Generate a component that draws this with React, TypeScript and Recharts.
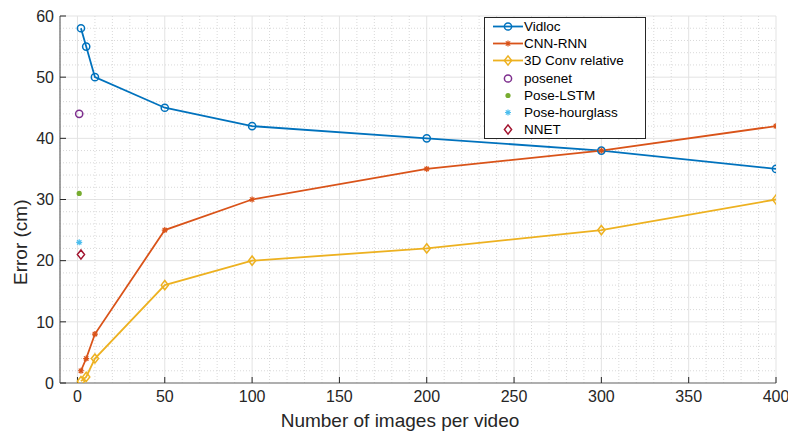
import React from 'react';
import {
  ComposedChart,
  Line,
  Scatter,
  XAxis,
  YAxis,
  CartesianGrid,
  ReferenceLine,
  Legend,
} from 'recharts';

const imagesPerVideo = [2, 5, 10, 50, 100, 200, 300, 400];
const vidlocError = [58, 55, 50, 45, 42, 40, 38, 35];
const cnnRnnError = [2, 4, 8, 25, 30, 35, 38, 42];
const conv3dError = [0.3, 1, 4, 16, 20, 22, 25, 30];

const posenetPoint = [{ x: 1, y: 44 }];
const poseLstmPoint = [{ x: 1, y: 31 }];
const poseHourglassPoint = [{ x: 1, y: 23 }];
const nnetPoint = [{ x: 2, y: 21 }];

const xTicks = [0, 50, 100, 150, 200, 250, 300, 350, 400];
const yTicks = [0, 10, 20, 30, 40, 50, 60];

// minor grid every 10 on x, every 2 on y
const xMinor: number[] = [];
for (let v = -10; v < 400; v += 10) if (v % 50 !== 0) xMinor.push(v);
const yMinor: number[] = [];
for (let v = 2; v < 60; v += 2) if (v % 10 !== 0) yMinor.push(v);

const FONT = '"Liberation Sans", Arial, sans-serif';
const AXIS = '#262626';
const BOX = '#6e6e6e';

const toPoints = (ys: number[]) => imagesPerVideo.map((x, i) => ({ x, y: ys[i] }));

const seriesMeta: Record<string, { color: string; kind: string; line: boolean }> = {
  Vidloc: { color: '#0072BD', kind: 'circle', line: true },
  'CNN-RNN': { color: '#D95319', kind: 'star', line: true },
  '3D Conv relative': { color: '#EDB120', kind: 'diamond', line: true },
  posenet: { color: '#7E2F8E', kind: 'circle', line: false },
  'Pose-LSTM': { color: '#77AC30', kind: 'dot', line: false },
  'Pose-hourglass': { color: '#4DBEEE', kind: 'star', line: false },
  NNET: { color: '#A2142F', kind: 'diamond', line: false },
};
const legendOrder = Object.keys(seriesMeta);

function Marker({ kind, cx, cy, color }: { kind: string; cx: number; cy: number; color: string }) {
  if (cx == null || cy == null) return null;
  if (kind === 'circle')
    return <circle cx={cx} cy={cy} r={3.6} fill="none" stroke={color} strokeWidth={1.5} />;
  if (kind === 'dot') return <circle cx={cx} cy={cy} r={2.6} fill={color} />;
  if (kind === 'diamond')
    return (
      <path
        d={`M${cx},${cy - 4.6}L${cx + 3.6},${cy}L${cx},${cy + 4.6}L${cx - 3.6},${cy}Z`}
        fill="none"
        stroke={color}
        strokeWidth={1.5}
      />
    );
  return (
    <path
      d={`M${cx - 3},${cy}H${cx + 3}M${cx},${cy - 3}V${cy + 3}M${cx - 2.2},${cy - 2.2}L${cx + 2.2},${cy + 2.2}M${cx - 2.2},${cy + 2.2}L${cx + 2.2},${cy - 2.2}`}
      stroke={color}
      strokeWidth={1.2}
      fill="none"
    />
  );
}

const renderLegend = (props: any) => {
  const payload = [...(props.payload || [])].sort(
    (a: any, b: any) => legendOrder.indexOf(a.value) - legendOrder.indexOf(b.value)
  );
  return (
    <div
      style={{
        border: `1px solid ${AXIS}`,
        background: '#fff',
        fontFamily: FONT,
        fontSize: 13.5,
        color: '#000',
        width: 160,
      }}
    >
      {payload.map((entry: any) => {
        const meta = seriesMeta[entry.value];
        return (
          <div key={entry.value} style={{ display: 'flex', alignItems: 'center', height: 17.2 }}>
            <svg width={30} height={17} style={{ marginLeft: 8 }}>
              {meta.line && (
                <line x1={0} x2={30} y1={8.5} y2={8.5} stroke={meta.color} strokeWidth={1.8} />
              )}
              <Marker kind={meta.kind} cx={15} cy={8.5} color={meta.color} />
            </svg>
            <span style={{ marginLeft: 1, lineHeight: '17px' }}>{entry.value}</span>
          </div>
        );
      })}
    </div>
  );
};

const lineSeries = [
  { name: 'Vidloc', values: vidlocError },
  { name: 'CNN-RNN', values: cnnRnnError },
  { name: '3D Conv relative', values: conv3dError },
];
const pointSeries = [
  { name: 'posenet', data: posenetPoint },
  { name: 'Pose-LSTM', data: poseLstmPoint },
  { name: 'Pose-hourglass', data: poseHourglassPoint },
  { name: 'NNET', data: nnetPoint },
];

export default function App() {
  const tickStyle = { fill: AXIS, fontSize: 16, fontFamily: FONT };
  const axisLine = { stroke: BOX, strokeWidth: 1.2 };
  const tickLine = { stroke: AXIS };
  return (
    <div style={{ position: 'absolute', left: 0, top: 0, background: '#fff' }}>
      <ComposedChart width={788} height={432} margin={{ top: 16, right: 12, left: 22, bottom: 0 }}>
        <CartesianGrid stroke="#e3e3e3" strokeWidth={1} />
        {xMinor.map((v) => (
          <ReferenceLine key={`xm${v}`} x={v} stroke="#d9d9d9" strokeDasharray="1 2" />
        ))}
        {yMinor.map((v) => (
          <ReferenceLine key={`ym${v}`} y={v} stroke="#d9d9d9" strokeDasharray="1 2" />
        ))}
        <XAxis
          type="number"
          dataKey="x"
          domain={[-10, 400]}
          ticks={xTicks}
          allowDataOverflow
          height={49}
          axisLine={axisLine}
          tickLine={tickLine}
          tickSize={-6}
          tickMargin={14}
          tick={tickStyle}
          label={{
            value: 'Number of images per video',
            position: 'insideBottom',
            offset: 5,
            dx: -18,
            fill: AXIS,
            fontSize: 19,
            fontFamily: FONT,
          }}
        />
        <XAxis
          xAxisId="top"
          orientation="top"
          type="number"
          domain={[-10, 400]}
          ticks={xTicks}
          allowDataOverflow
          height={0}
          axisLine={axisLine}
          tickLine={tickLine}
          tickSize={-6}
          tick={false}
        />
        <YAxis
          type="number"
          domain={[0, 60]}
          ticks={yTicks}
          allowDataOverflow
          width={38}
          axisLine={axisLine}
          tickLine={tickLine}
          tickSize={-6}
          tickMargin={12}
          tick={tickStyle}
          label={{
            value: 'Error (cm)',
            angle: -90,
            position: 'left',
            offset: 2,
            dx: 0,
            fill: AXIS,
            fontSize: 19,
            fontFamily: FONT,
          }}
        />
        <YAxis
          yAxisId="right"
          orientation="right"
          type="number"
          domain={[0, 60]}
          ticks={yTicks}
          width={0}
          axisLine={axisLine}
          tickLine={tickLine}
          tickSize={-6}
          tick={false}
        />
        {lineSeries.map((s) => {
          const meta = seriesMeta[s.name];
          return (
            <Line
              key={s.name}
              name={s.name}
              data={toPoints(s.values)}
              dataKey="y"
              stroke={meta.color}
              strokeWidth={1.8}
              isAnimationActive={false}
              dot={(p: any) => (
                <Marker key={`${s.name}-${p.index}`} kind={meta.kind} cx={p.cx} cy={p.cy} color={meta.color} />
              )}
              activeDot={false}
            />
          );
        })}
        {pointSeries.map((s) => {
          const meta = seriesMeta[s.name];
          return (
            <Scatter
              key={s.name}
              name={s.name}
              data={s.data}
              dataKey="y"
              fill={meta.color}
              isAnimationActive={false}
              shape={(p: any) => <Marker kind={meta.kind} cx={p.cx} cy={p.cy} color={meta.color} />}
            />
          );
        })}
        <Legend
          layout="vertical"
          align="center"
          verticalAlign="middle"
          content={renderLegend}
          wrapperStyle={{ left: 484, top: 17, width: 162, right: 'auto', bottom: 'auto' }}
        />
      </ComposedChart>
    </div>
  );
}
